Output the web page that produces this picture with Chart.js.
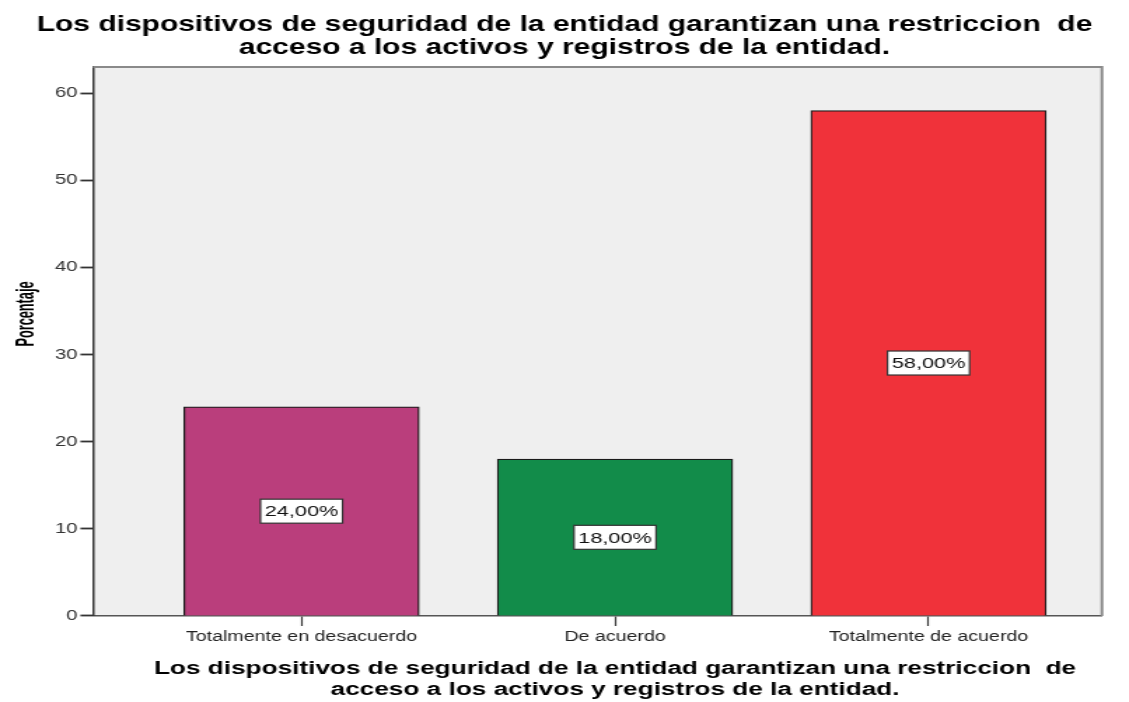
<!DOCTYPE html>
<html>
<head>
<meta charset="utf-8">
<script src="https://cdn.jsdelivr.net/npm/chart.js@4"></script>
<style>
  html, body { margin: 0; padding: 0; background: #fff; overflow: hidden; }
  /* the reference image is stretched sideways, so the chart is drawn narrower and widened */
  #wrap { width: 806px; height: 702px; transform: scaleX(1.4007); transform-origin: 0 0; }
</style>
</head>
<body>
<div id="wrap"><canvas id="chart" width="806" height="702"></canvas></div>
<script>
const categories = ["Totalmente en desacuerdo", "De acuerdo", "Totalmente de acuerdo"];
const percentages = [24, 18, 58];
const barColors = ["#BA3E7C", "#128C4A", "#F0323A"];
const yTicks = [0, 10, 20, 30, 40, 50, 60];
const titleLines = [
  "Los dispositivos de seguridad de la entidad garantizan una restriccion  de",
  "acceso a los activos y registros de la entidad."
];
const yTitle = "Porcentaje";

const plotFrame = {
  id: 'plotFrame',
  beforeDraw(chart) {
    const { ctx, chartArea: a } = chart;
    ctx.save();
    ctx.fillStyle = '#EFEFEF';
    ctx.fillRect(a.left, a.top, a.right - a.left, a.bottom - a.top);
    ctx.restore();
  },
  afterDraw(chart) {
    const { ctx, chartArea: a } = chart;
    ctx.save();
    ctx.strokeStyle = '#8a8a8a';
    ctx.lineWidth = 2;
    ctx.beginPath();
    ctx.moveTo(a.left, a.top);
    ctx.lineTo(a.right, a.top);
    ctx.lineTo(a.right, a.bottom);
    ctx.stroke();
    ctx.restore();
  }
};

// axis titles drawn by hand: the x title sits under the middle category, the y title is condensed
const axisTitles = {
  id: 'axisTitles',
  afterDraw(chart) {
    const { ctx, chartArea: a, scales } = chart;
    ctx.save();
    ctx.fillStyle = '#000';
    ctx.textAlign = 'center';
    ctx.textBaseline = 'middle';
    ctx.font = 'bold 18.7px "Liberation Sans", Arial, sans-serif';
    const cx = scales.x.getPixelForValue(1);
    titleLines.forEach((line, i) => ctx.fillText(line, cx, a.bottom + 53 + i * 21));
    ctx.translate(18.8, a.top + (a.bottom - a.top) * 0.45);
    ctx.rotate(-Math.PI / 2);
    ctx.scale(0.67, 1);
    ctx.font = 'bold 19px "Liberation Sans", Arial, sans-serif';
    ctx.fillText(yTitle, 0, 0);
    ctx.restore();
  }
};

const valueBoxes = {
  id: 'valueBoxes',
  afterDatasetsDraw(chart) {
    const ctx = chart.ctx;
    const meta = chart.getDatasetMeta(0);
    ctx.save();
    ctx.font = '15.5px "Liberation Sans", Arial, sans-serif';
    ctx.textAlign = 'center';
    ctx.textBaseline = 'middle';
    meta.data.forEach((bar, i) => {
      const text = percentages[i].toFixed(2).replace('.', ',') + '%';
      const w = ctx.measureText(text).width + 6;
      const h = 24;
      const cx = bar.x;
      const cy = (bar.y + bar.base) / 2;
      ctx.fillStyle = '#fff';
      ctx.fillRect(cx - w / 2, cy - h / 2, w, h);
      ctx.strokeStyle = '#333';
      ctx.lineWidth = 1.2;
      ctx.strokeRect(cx - w / 2, cy - h / 2, w, h);
      ctx.fillStyle = '#111';
      ctx.fillText(text, cx, cy + 1);
    });
    ctx.restore();
  }
};

new Chart(document.getElementById('chart'), {
  type: 'bar',
  data: {
    datasets: [{
      data: categories.map((c, i) => ({ x: i, y: percentages[i] })),
      backgroundColor: barColors,
      borderColor: '#1a1a1a',
      borderWidth: 1.3,
      barThickness: 168
    }]
  },
  options: {
    responsive: false,
    animation: false,
    layout: { padding: 0 },
    plugins: {
      legend: { display: false },
      tooltip: { enabled: false },
      title: {
        display: true,
        text: titleLines,
        color: '#000',
        font: { family: '"Liberation Sans", Arial, sans-serif', size: 21.4, weight: 'bold', lineHeight: 1.06 },
        padding: { top: 14, bottom: 7.6 }
      }
    },
    scales: {
      x: {
        type: 'linear',
        min: -0.665,
        max: 2.553,
        offset: false,
        afterBuildTicks: s => { s.ticks = categories.map((c, i) => ({ value: i })); },
        afterFit: s => { s.height = 86; },
        ticks: {
          callback: v => categories[v],
          color: '#222',
          font: { family: '"Liberation Sans", Arial, sans-serif', size: 14 },
          padding: 3,
          maxRotation: 0,
          autoSkip: false
        },
        grid: { offset: false, drawOnChartArea: false, drawTicks: true, tickLength: 10, color: '#333', tickWidth: 1.2 },
        border: { display: true, color: '#555', width: 1.5 }
      },
      y: {
        min: 0,
        max: 63,
        afterBuildTicks: s => { s.ticks = yTicks.map(v => ({ value: v })); },
        afterFit: s => { s.width = 66.4; },
        ticks: {
          color: '#333',
          font: { family: '"Liberation Sans", Arial, sans-serif', size: 14.5 },
          padding: 2
        },
        grid: { drawOnChartArea: false, drawTicks: true, tickLength: 9, color: '#333', tickWidth: 1.8 },
        border: { display: true, color: '#333', width: 1.5 }
      },
      // empty strip on the right so the plot ends where the reference does
      yRight: {
        position: 'right',
        afterFit: s => { s.width = 19.3; },
        ticks: { display: false },
        grid: { display: false },
        border: { display: false }
      }
    }
  },
  plugins: [plotFrame, axisTitles, valueBoxes]
});
</script>
</body>
</html>
